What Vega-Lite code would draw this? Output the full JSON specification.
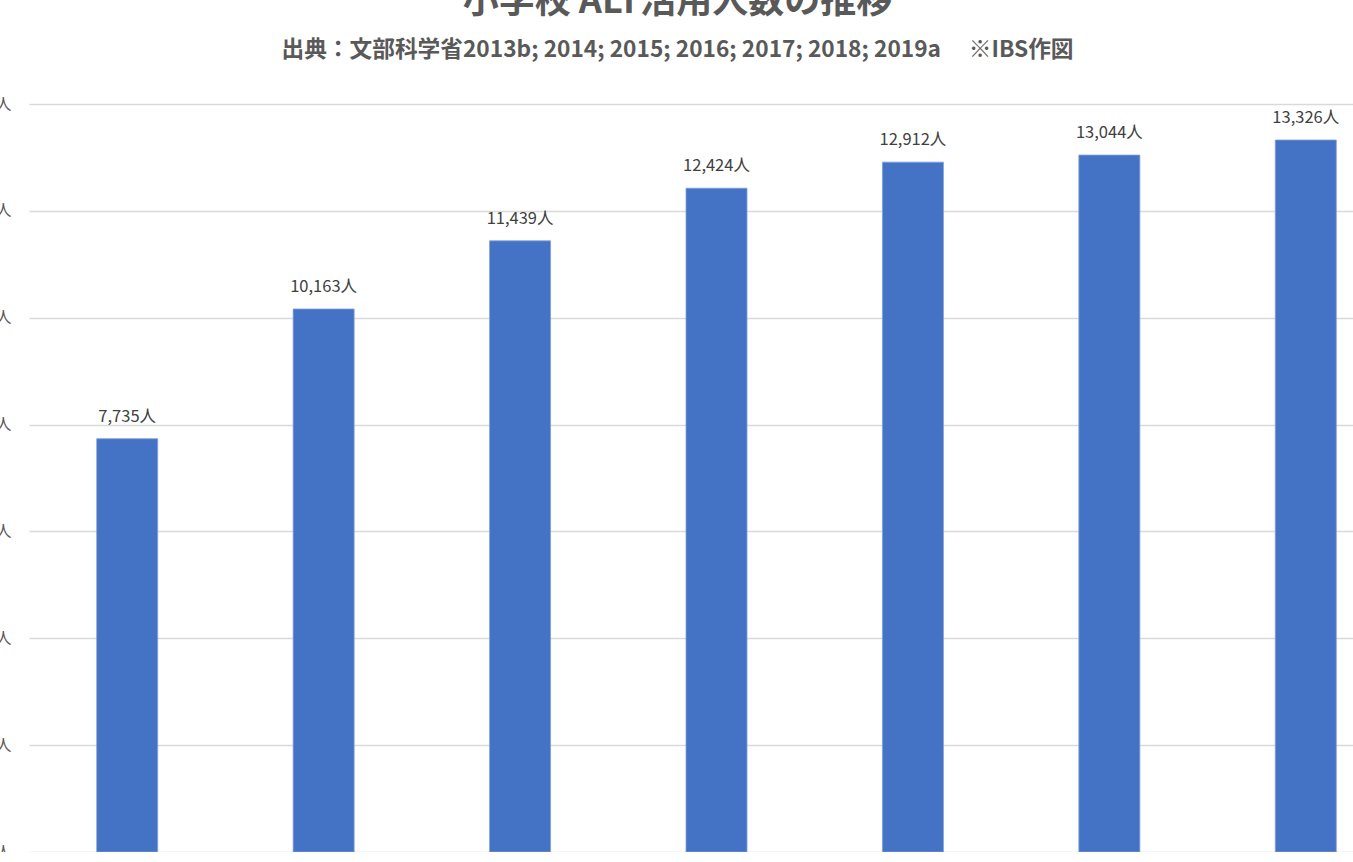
{
  "$schema": "https://vega.github.io/schema/vega-lite/v6.json",
  "autosize": {"type": "none"},
  "padding": {"left": 29, "top": 104, "right": 0, "bottom": 0},
  "width": 1375,
  "height": 748,
  "background": "white",
  "title": {
    "text": "小学校 ALT活用人数の推移",
    "subtitle": "出典：文部科学省2013b; 2014; 2015; 2016; 2017; 2018; 2019a\u3000 ※IBS作図",
    "anchor": "middle",
    "dx": -39,
    "offset": 33,
    "font": "Noto Sans CJK JP",
    "fontSize": 36,
    "fontWeight": "bold",
    "color": "#595959",
    "subtitleFont": "Noto Sans CJK JP",
    "subtitleFontSize": 22.7,
    "subtitleFontWeight": "bold",
    "subtitleColor": "#595959",
    "subtitlePadding": 18
  },
  "config": {
    "view": {"stroke": null},
    "axis": {
      "labelFont": "Noto Sans CJK JP",
      "labelFontSize": 16,
      "labelColor": "#595959",
      "domain": false,
      "ticks": false,
      "title": null
    }
  },
  "data": {
    "values": [
      {"year": "2013", "count": 7735},
      {"year": "2014", "count": 10163},
      {"year": "2015", "count": 11439},
      {"year": "2016", "count": 12424},
      {"year": "2017", "count": 12912},
      {"year": "2018", "count": 13044},
      {"year": "2019", "count": 13326}
    ]
  },
  "transform": [
    {"calculate": "format(datum.count, ',') + '人'", "as": "label"}
  ],
  "encoding": {
    "x": {
      "field": "year",
      "type": "ordinal",
      "scale": {"paddingInner": 0, "paddingOuter": 0},
      "axis": {"labelAngle": 0, "grid": false, "labelPadding": 10}
    },
    "y": {
      "field": "count",
      "type": "quantitative",
      "scale": {"domain": [0, 14000], "nice": false},
      "axis": {
        "values": [0, 2000, 4000, 6000, 8000, 10000, 12000, 14000],
        "labelExpr": "format(datum.value, ',') + '人'",
        "labelPadding": 18,
        "grid": true,
        "gridColor": "#d9d9d9",
        "gridWidth": 1.5
      }
    }
  },
  "layer": [
    {
      "mark": {"type": "bar", "size": 61, "color": "#4472c4", "stroke": "#7f9fd8", "strokeWidth": 0.8}
    },
    {
      "mark": {
        "type": "text",
        "baseline": "alphabetic",
        "dy": -17,
        "font": "Noto Sans CJK JP",
        "fontSize": 16.5,
        "color": "#404040"
      },
      "encoding": {
        "text": {"field": "label", "type": "nominal"}
      }
    }
  ]
}
